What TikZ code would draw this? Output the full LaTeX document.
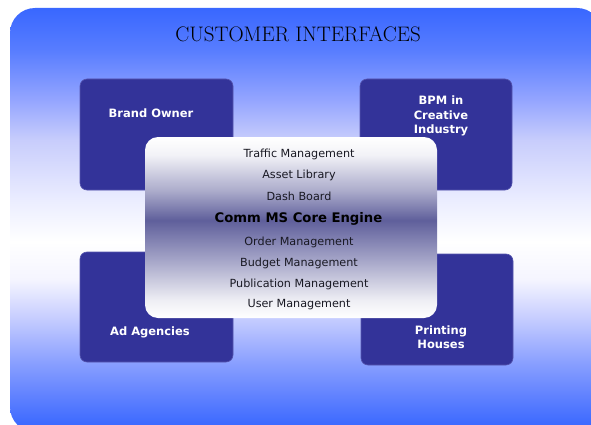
\documentclass[tikz,border=0pt]{standalone}
\usepackage{fontspec}
\newfontfamily\uifont{DejaVu Sans}
\definecolor{boxblue}{RGB}{51,51,153}
\definecolor{boxedge}{RGB}{85,85,175}
\definecolor{txtdark}{RGB}{25,25,35}
\definecolor{bgA}{RGB}{58,104,255}
\definecolor{bgB}{RGB}{100,132,255}
\definecolor{bgC}{RGB}{135,158,255}
\definecolor{bgD}{RGB}{200,206,255}
\definecolor{bgE}{RGB}{245,245,255}
\definecolor{bgF}{RGB}{235,237,255}
\definecolor{bgG}{RGB}{200,205,252}
\definecolor{bgH}{RGB}{150,166,255}
\definecolor{bgI}{RGB}{88,125,255}
\definecolor{coA}{RGB}{238,238,244}
\definecolor{coB}{RGB}{165,165,200}
\definecolor{coC}{RGB}{95,95,155}
\definecolor{coD}{RGB}{170,170,202}
\definecolor{coE}{RGB}{242,242,247}
\pgfdeclareverticalshading{bgshade}{100bp}{color(0bp)=(bgA); color(25.7bp)=(bgA); color(29.6bp)=(bgB); color(33bp)=(bgC); color(38.6bp)=(bgD); color(43bp)=(bgE); color(47.5bp)=(white); color(52.3bp)=(bgF); color(59.4bp)=(bgG); color(64bp)=(bgH); color(70bp)=(bgI); color(74.8bp)=(bgA); color(100bp)=(bgA)}
\pgfdeclareverticalshading{coreshade}{100bp}{color(0bp)=(white); color(25bp)=(white); color(30bp)=(coA); color(41bp)=(coB); color(52bp)=(coC); color(60bp)=(coD); color(70bp)=(coE); color(75bp)=(white); color(100bp)=(white)}
\begin{document}
\begin{tikzpicture}[x=1pt,y=-1pt,
  cbox/.style={draw=boxedge, line width=0.6pt, fill=boxblue, rounded corners=7pt, inner sep=0pt},
  btext/.style={text=white, font=\uifont\bfseries\fontsize{11.5}{14.5}\selectfont, align=center, inner sep=0pt},
  ctext/.style={text=txtdark, font=\uifont\fontsize{11.2}{13}\selectfont, inner sep=0pt},
  cbold/.style={text=black, font=\uifont\bfseries\fontsize{13.2}{15}\selectfont, inner sep=0pt},
  titletext/.style={text=black, font=\fontsize{21}{24}\selectfont, inner sep=0pt}]
\useasboundingbox (0,0) rectangle (591,425);
\clip (0,0) rectangle (591,425);
\shade[shading=bgshade, rounded corners=25pt] (10,8) rectangle (602,432);
\node[titletext] (title) at (298,34) {CUSTOMER INTERFACES};
\node[cbox, minimum width=153pt, minimum height=111pt] (brand) at (156.5,134.5) {};
\node[cbox, minimum width=152pt, minimum height=111pt] (bpm) at (436,134.5) {};
\node[cbox, minimum width=153pt, minimum height=110pt] (ad) at (156.5,307) {};
\node[cbox, minimum width=152pt, minimum height=111pt] (print) at (437,309.5) {};
\node[btext] (brandl) at (151,113) {Brand Owner};
\node[btext] (bpml) at (441,116) {BPM in\\Creative\\Industry};
\node[btext] (adl) at (150,332) {Ad Agencies};
\node[btext] (printl) at (441,337) {Printing\\Houses};
\shade[shading=coreshade, rounded corners=13pt] (145,137) rectangle (437,318);
\node[ctext] (t1) at (299,154) {Traffic Management};
\node[ctext] (t2) at (299,175.5) {Asset Library};
\node[ctext] (t3) at (299,196) {Dash Board};
\node[cbold] (t4) at (298.5,219) {Comm MS Core Engine};
\node[ctext] (t5) at (299,242) {Order Management};
\node[ctext] (t6) at (299,263) {Budget Management};
\node[ctext] (t7) at (299,284) {Publication Management};
\node[ctext] (t8) at (299,305) {User Management};
\end{tikzpicture}
\end{document}
